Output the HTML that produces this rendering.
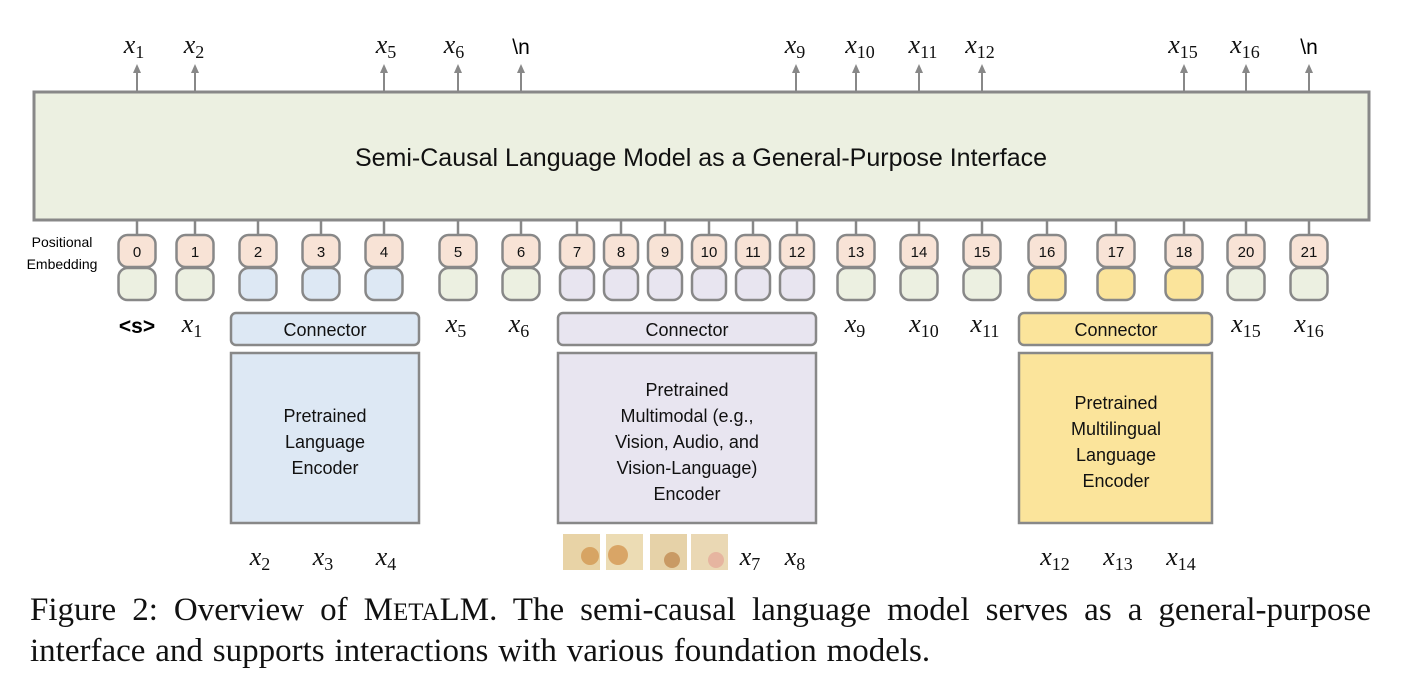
<!DOCTYPE html>
<html><head><meta charset="utf-8"><style>
html,body{margin:0;padding:0;background:#fff;}
svg{display:block;}
.s{font-family:"Liberation Sans",sans-serif;}
.m{font-family:"Liberation Serif",serif;font-style:italic;}
</style></head><body>
<svg width="1406" height="688" viewBox="0 0 1406 688" xmlns="http://www.w3.org/2000/svg">
<g stroke="#888" stroke-width="2" fill="#888">
<line x1="137" y1="91" x2="137" y2="72"/><path d="M133,73 L137,64 L141,73z" stroke="none"/>
<line x1="195" y1="91" x2="195" y2="72"/><path d="M191,73 L195,64 L199,73z" stroke="none"/>
<line x1="384" y1="91" x2="384" y2="72"/><path d="M380,73 L384,64 L388,73z" stroke="none"/>
<line x1="458" y1="91" x2="458" y2="72"/><path d="M454,73 L458,64 L462,73z" stroke="none"/>
<line x1="521" y1="91" x2="521" y2="72"/><path d="M517,73 L521,64 L525,73z" stroke="none"/>
<line x1="796" y1="91" x2="796" y2="72"/><path d="M792,73 L796,64 L800,73z" stroke="none"/>
<line x1="856" y1="91" x2="856" y2="72"/><path d="M852,73 L856,64 L860,73z" stroke="none"/>
<line x1="919" y1="91" x2="919" y2="72"/><path d="M915,73 L919,64 L923,73z" stroke="none"/>
<line x1="982" y1="91" x2="982" y2="72"/><path d="M978,73 L982,64 L986,73z" stroke="none"/>
<line x1="1184" y1="91" x2="1184" y2="72"/><path d="M1180,73 L1184,64 L1188,73z" stroke="none"/>
<line x1="1246" y1="91" x2="1246" y2="72"/><path d="M1242,73 L1246,64 L1250,73z" stroke="none"/>
<line x1="1309" y1="91" x2="1309" y2="72"/><path d="M1305,73 L1309,64 L1313,73z" stroke="none"/>
</g>
<g class="m" font-size="26" fill="#111" text-anchor="middle">
<text x="134" y="53">x<tspan font-style="normal" font-size="18" dy="5">1</tspan></text>
<text x="194" y="53">x<tspan font-style="normal" font-size="18" dy="5">2</tspan></text>
<text x="386" y="53">x<tspan font-style="normal" font-size="18" dy="5">5</tspan></text>
<text x="454" y="53">x<tspan font-style="normal" font-size="18" dy="5">6</tspan></text>
<text x="795" y="53">x<tspan font-style="normal" font-size="18" dy="5">9</tspan></text>
<text x="860" y="53">x<tspan font-style="normal" font-size="18" dy="5">10</tspan></text>
<text x="923" y="53">x<tspan font-style="normal" font-size="18" dy="5">11</tspan></text>
<text x="980" y="53">x<tspan font-style="normal" font-size="18" dy="5">12</tspan></text>
<text x="1183" y="53">x<tspan font-style="normal" font-size="18" dy="5">15</tspan></text>
<text x="1245" y="53">x<tspan font-style="normal" font-size="18" dy="5">16</tspan></text>
</g>
<text class="s" x="521" y="54" font-size="21" text-anchor="middle">\n</text>
<text class="s" x="1309" y="54" font-size="21" text-anchor="middle">\n</text>

<rect x="34" y="92" width="1335" height="128" fill="#ecf0e1" stroke="#888" stroke-width="3"/>
<text class="s" x="701" y="166" font-size="25" text-anchor="middle" fill="#111">Semi-Causal Language Model as a General-Purpose Interface</text>

<text class="s" x="62" y="247" font-size="14" text-anchor="middle">Positional</text>
<text class="s" x="62" y="269" font-size="14" text-anchor="middle">Embedding</text>

<g stroke="#888" stroke-width="2.5">
<line x1="137" y1="220" x2="137" y2="235"/><rect x="118.5" y="268" width="37" height="32" rx="9" fill="#ecf0e1"/><rect x="118.5" y="235" width="37" height="32" rx="9" fill="#f8e3d6"/>
<line x1="195" y1="220" x2="195" y2="235"/><rect x="176.5" y="268" width="37" height="32" rx="9" fill="#ecf0e1"/><rect x="176.5" y="235" width="37" height="32" rx="9" fill="#f8e3d6"/>
<line x1="258" y1="220" x2="258" y2="235"/><rect x="239.5" y="268" width="37" height="32" rx="9" fill="#dde8f4"/><rect x="239.5" y="235" width="37" height="32" rx="9" fill="#f8e3d6"/>
<line x1="321" y1="220" x2="321" y2="235"/><rect x="302.5" y="268" width="37" height="32" rx="9" fill="#dde8f4"/><rect x="302.5" y="235" width="37" height="32" rx="9" fill="#f8e3d6"/>
<line x1="384" y1="220" x2="384" y2="235"/><rect x="365.5" y="268" width="37" height="32" rx="9" fill="#dde8f4"/><rect x="365.5" y="235" width="37" height="32" rx="9" fill="#f8e3d6"/>
<line x1="458" y1="220" x2="458" y2="235"/><rect x="439.5" y="268" width="37" height="32" rx="9" fill="#ecf0e1"/><rect x="439.5" y="235" width="37" height="32" rx="9" fill="#f8e3d6"/>
<line x1="521" y1="220" x2="521" y2="235"/><rect x="502.5" y="268" width="37" height="32" rx="9" fill="#ecf0e1"/><rect x="502.5" y="235" width="37" height="32" rx="9" fill="#f8e3d6"/>
<line x1="577" y1="220" x2="577" y2="235"/><rect x="560" y="268" width="34" height="32" rx="9" fill="#e8e5f0"/><rect x="560" y="235" width="34" height="32" rx="9" fill="#f8e3d6"/>
<line x1="621" y1="220" x2="621" y2="235"/><rect x="604" y="268" width="34" height="32" rx="9" fill="#e8e5f0"/><rect x="604" y="235" width="34" height="32" rx="9" fill="#f8e3d6"/>
<line x1="665" y1="220" x2="665" y2="235"/><rect x="648" y="268" width="34" height="32" rx="9" fill="#e8e5f0"/><rect x="648" y="235" width="34" height="32" rx="9" fill="#f8e3d6"/>
<line x1="709" y1="220" x2="709" y2="235"/><rect x="692" y="268" width="34" height="32" rx="9" fill="#e8e5f0"/><rect x="692" y="235" width="34" height="32" rx="9" fill="#f8e3d6"/>
<line x1="753" y1="220" x2="753" y2="235"/><rect x="736" y="268" width="34" height="32" rx="9" fill="#e8e5f0"/><rect x="736" y="235" width="34" height="32" rx="9" fill="#f8e3d6"/>
<line x1="797" y1="220" x2="797" y2="235"/><rect x="780" y="268" width="34" height="32" rx="9" fill="#e8e5f0"/><rect x="780" y="235" width="34" height="32" rx="9" fill="#f8e3d6"/>
<line x1="856" y1="220" x2="856" y2="235"/><rect x="837.5" y="268" width="37" height="32" rx="9" fill="#ecf0e1"/><rect x="837.5" y="235" width="37" height="32" rx="9" fill="#f8e3d6"/>
<line x1="919" y1="220" x2="919" y2="235"/><rect x="900.5" y="268" width="37" height="32" rx="9" fill="#ecf0e1"/><rect x="900.5" y="235" width="37" height="32" rx="9" fill="#f8e3d6"/>
<line x1="982" y1="220" x2="982" y2="235"/><rect x="963.5" y="268" width="37" height="32" rx="9" fill="#ecf0e1"/><rect x="963.5" y="235" width="37" height="32" rx="9" fill="#f8e3d6"/>
<line x1="1047" y1="220" x2="1047" y2="235"/><rect x="1028.5" y="268" width="37" height="32" rx="9" fill="#fbe49b"/><rect x="1028.5" y="235" width="37" height="32" rx="9" fill="#f8e3d6"/>
<line x1="1116" y1="220" x2="1116" y2="235"/><rect x="1097.5" y="268" width="37" height="32" rx="9" fill="#fbe49b"/><rect x="1097.5" y="235" width="37" height="32" rx="9" fill="#f8e3d6"/>
<line x1="1184" y1="220" x2="1184" y2="235"/><rect x="1165.5" y="268" width="37" height="32" rx="9" fill="#fbe49b"/><rect x="1165.5" y="235" width="37" height="32" rx="9" fill="#f8e3d6"/>
<line x1="1246" y1="220" x2="1246" y2="235"/><rect x="1227.5" y="268" width="37" height="32" rx="9" fill="#ecf0e1"/><rect x="1227.5" y="235" width="37" height="32" rx="9" fill="#f8e3d6"/>
<line x1="1309" y1="220" x2="1309" y2="235"/><rect x="1290.5" y="268" width="37" height="32" rx="9" fill="#ecf0e1"/><rect x="1290.5" y="235" width="37" height="32" rx="9" fill="#f8e3d6"/>
</g>
<g class="s" font-size="15" text-anchor="middle" fill="#111">
<text x="137" y="257">0</text><text x="195" y="257">1</text><text x="258" y="257">2</text><text x="321" y="257">3</text><text x="384" y="257">4</text><text x="458" y="257">5</text><text x="521" y="257">6</text>
<text x="577" y="257">7</text><text x="621" y="257">8</text><text x="665" y="257">9</text><text x="709" y="257">10</text><text x="753" y="257">11</text><text x="797" y="257">12</text>
<text x="856" y="257">13</text><text x="919" y="257">14</text><text x="982" y="257">15</text><text x="1047" y="257">16</text><text x="1116" y="257">17</text><text x="1184" y="257">18</text><text x="1246" y="257">20</text><text x="1309" y="257">21</text>
</g>

<text class="s" x="137" y="333" font-size="21" font-weight="bold" text-anchor="middle">&lt;s&gt;</text>
<g class="m" font-size="26" fill="#111" text-anchor="middle">
<text x="192" y="332">x<tspan font-style="normal" font-size="18" dy="5">1</tspan></text>
<text x="456" y="332">x<tspan font-style="normal" font-size="18" dy="5">5</tspan></text>
<text x="519" y="332">x<tspan font-style="normal" font-size="18" dy="5">6</tspan></text>
<text x="855" y="332">x<tspan font-style="normal" font-size="18" dy="5">9</tspan></text>
<text x="924" y="332">x<tspan font-style="normal" font-size="18" dy="5">10</tspan></text>
<text x="985" y="332">x<tspan font-style="normal" font-size="18" dy="5">11</tspan></text>
<text x="1246" y="332">x<tspan font-style="normal" font-size="18" dy="5">15</tspan></text>
<text x="1309" y="332">x<tspan font-style="normal" font-size="18" dy="5">16</tspan></text>
<text x="260" y="565">x<tspan font-style="normal" font-size="18" dy="5">2</tspan></text>
<text x="323" y="565">x<tspan font-style="normal" font-size="18" dy="5">3</tspan></text>
<text x="386" y="565">x<tspan font-style="normal" font-size="18" dy="5">4</tspan></text>
<text x="750" y="565">x<tspan font-style="normal" font-size="18" dy="5">7</tspan></text>
<text x="795" y="565">x<tspan font-style="normal" font-size="18" dy="5">8</tspan></text>
<text x="1055" y="565">x<tspan font-style="normal" font-size="18" dy="5">12</tspan></text>
<text x="1118" y="565">x<tspan font-style="normal" font-size="18" dy="5">13</tspan></text>
<text x="1181" y="565">x<tspan font-style="normal" font-size="18" dy="5">14</tspan></text>
</g>

<g stroke="#888" stroke-width="2.5">
<rect x="231" y="313" width="188" height="32" rx="5" fill="#dde8f4"/>
<rect x="558" y="313" width="258" height="32" rx="5" fill="#e8e5f0"/>
<rect x="1019" y="313" width="193" height="32" rx="5" fill="#fbe49b"/>
<rect x="231" y="353" width="188" height="170" fill="#dde8f4"/>
<rect x="558" y="353" width="258" height="170" fill="#e8e5f0"/>
<rect x="1019" y="353" width="193" height="170" fill="#fbe49b"/>
</g>
<g class="s" font-size="18" text-anchor="middle" fill="#111">
<text x="325" y="336">Connector</text>
<text x="687" y="336">Connector</text>
<text x="1116" y="336">Connector</text>
<text x="325" y="422">Pretrained</text>
<text x="325" y="448">Language</text>
<text x="325" y="474">Encoder</text>
<text x="687" y="396">Pretrained</text>
<text x="687" y="422">Multimodal (e.g.,</text>
<text x="687" y="448">Vision, Audio, and</text>
<text x="687" y="474">Vision-Language)</text>
<text x="687" y="500">Encoder</text>
<text x="1116" y="409">Pretrained</text>
<text x="1116" y="435">Multilingual</text>
<text x="1116" y="461">Language</text>
<text x="1116" y="487">Encoder</text>
</g>
<rect x="563" y="534" width="37" height="36" fill="#e8d3a6"/>
<rect x="606" y="534" width="37" height="36" fill="#ecdcb4"/>
<rect x="650" y="534" width="37" height="36" fill="#e6d2a8"/>
<rect x="691" y="534" width="37" height="36" fill="#ead8b4"/>
<circle cx="590" cy="556" r="9" fill="#d7a463"/>
<circle cx="618" cy="555" r="10" fill="#d9a566"/>
<circle cx="672" cy="560" r="8" fill="#c99a64"/>
<circle cx="716" cy="560" r="8" fill="#e6b5a0"/>

<g font-family="Liberation Serif,serif" font-size="33" fill="#111">
<text x="30" y="620" word-spacing="7.8">Figure 2: Overview of M<tspan font-size="25">ETA</tspan>LM. The semi-causal language model serves as a general-purpose</text>
<text x="30" y="661" word-spacing="1.6">interface and supports interactions with various foundation models.</text>
</g>
</svg>
</body></html>
